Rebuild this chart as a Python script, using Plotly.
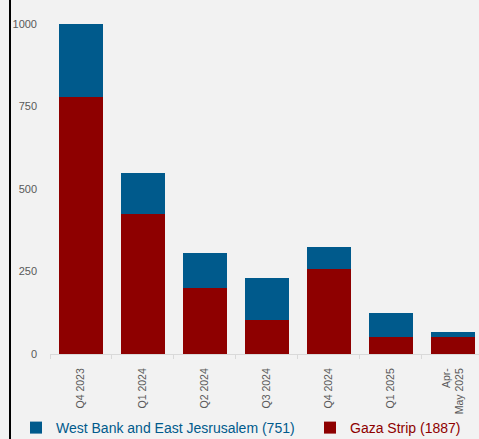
import plotly.graph_objects as go

categories = ["Q4 2023", "Q1 2024", "Q2 2024", "Q3 2024", "Q4 2024", "Q1 2025", "Apr-<br>May 2025"]
gaza = [780, 424, 200, 104, 258, 52, 52]
west_bank = [220, 124, 105, 125, 66, 71, 16]
gaza_name = "Gaza Strip (1887)"
wb_name = "West Bank and East Jesrusalem (751)"
y_ticks = [0, 250, 500, 750, 1000]

BLUE = "#005A8C"
RED = "#8E0000"
BG = "#F2F2F2"
GRAY = "#595959"
FONT = "Liberation Sans, Arial, sans-serif"

fig = go.Figure()
fig.add_trace(go.Bar(x=categories, y=gaza, name=f"<span style='color:{RED}'>{gaza_name}</span>",
                     marker=dict(color=RED, line=dict(width=0)), legend="legend2"))
fig.add_trace(go.Bar(x=categories, y=west_bank, name=f"<span style='color:{BLUE}'>{wb_name}</span>",
                     marker=dict(color=BLUE, line=dict(width=0)), legend="legend"))

leg_common = dict(orientation="h", xref="container", xanchor="left",
                  yref="container", y=1 - 428 / 439, yanchor="middle",
                  font=dict(family=FONT, size=14), bgcolor="rgba(0,0,0,0)")

fig.update_layout(
    width=479, height=439,
    barmode="stack", bargap=0.3,
    paper_bgcolor=BG, plot_bgcolor=BG,
    margin=dict(l=50, r=0, t=24, b=85, autoexpand=False),
    font=dict(family=FONT, size=11, color=GRAY),
    showlegend=True,
    legend=dict(x=16 / 479, **leg_common),
    legend2=dict(x=310 / 479, **leg_common),
    xaxis=dict(range=[-0.5, 6.42], tickangle=-90, showline=True, linecolor="#D9D9D9",
               ticks="outside", ticklen=4, tickcolor="#D9D9D9", tickson="boundaries",
               tickfont=dict(size=10.5, color=GRAY), ticklabelstandoff=9,
               showgrid=False, zeroline=False, fixedrange=True),
    yaxis=dict(range=[0, 1000], tickvals=y_ticks, showgrid=False, zeroline=False,
               showline=False, ticklabelstandoff=12, tickfont=dict(size=11, color=GRAY),
               fixedrange=True),
    shapes=[dict(type="line", xref="paper", yref="paper",
                 x0=(10 - 50) / 429, x1=(10 - 50) / 429, y0=-2, y1=2,
                 line=dict(color="#000000", width=2))],
)

fig.write_html("out.html", config={"displayModeBar": False},
               post_script="document.body.style.margin='0';document.body.style.overflow='hidden';")
